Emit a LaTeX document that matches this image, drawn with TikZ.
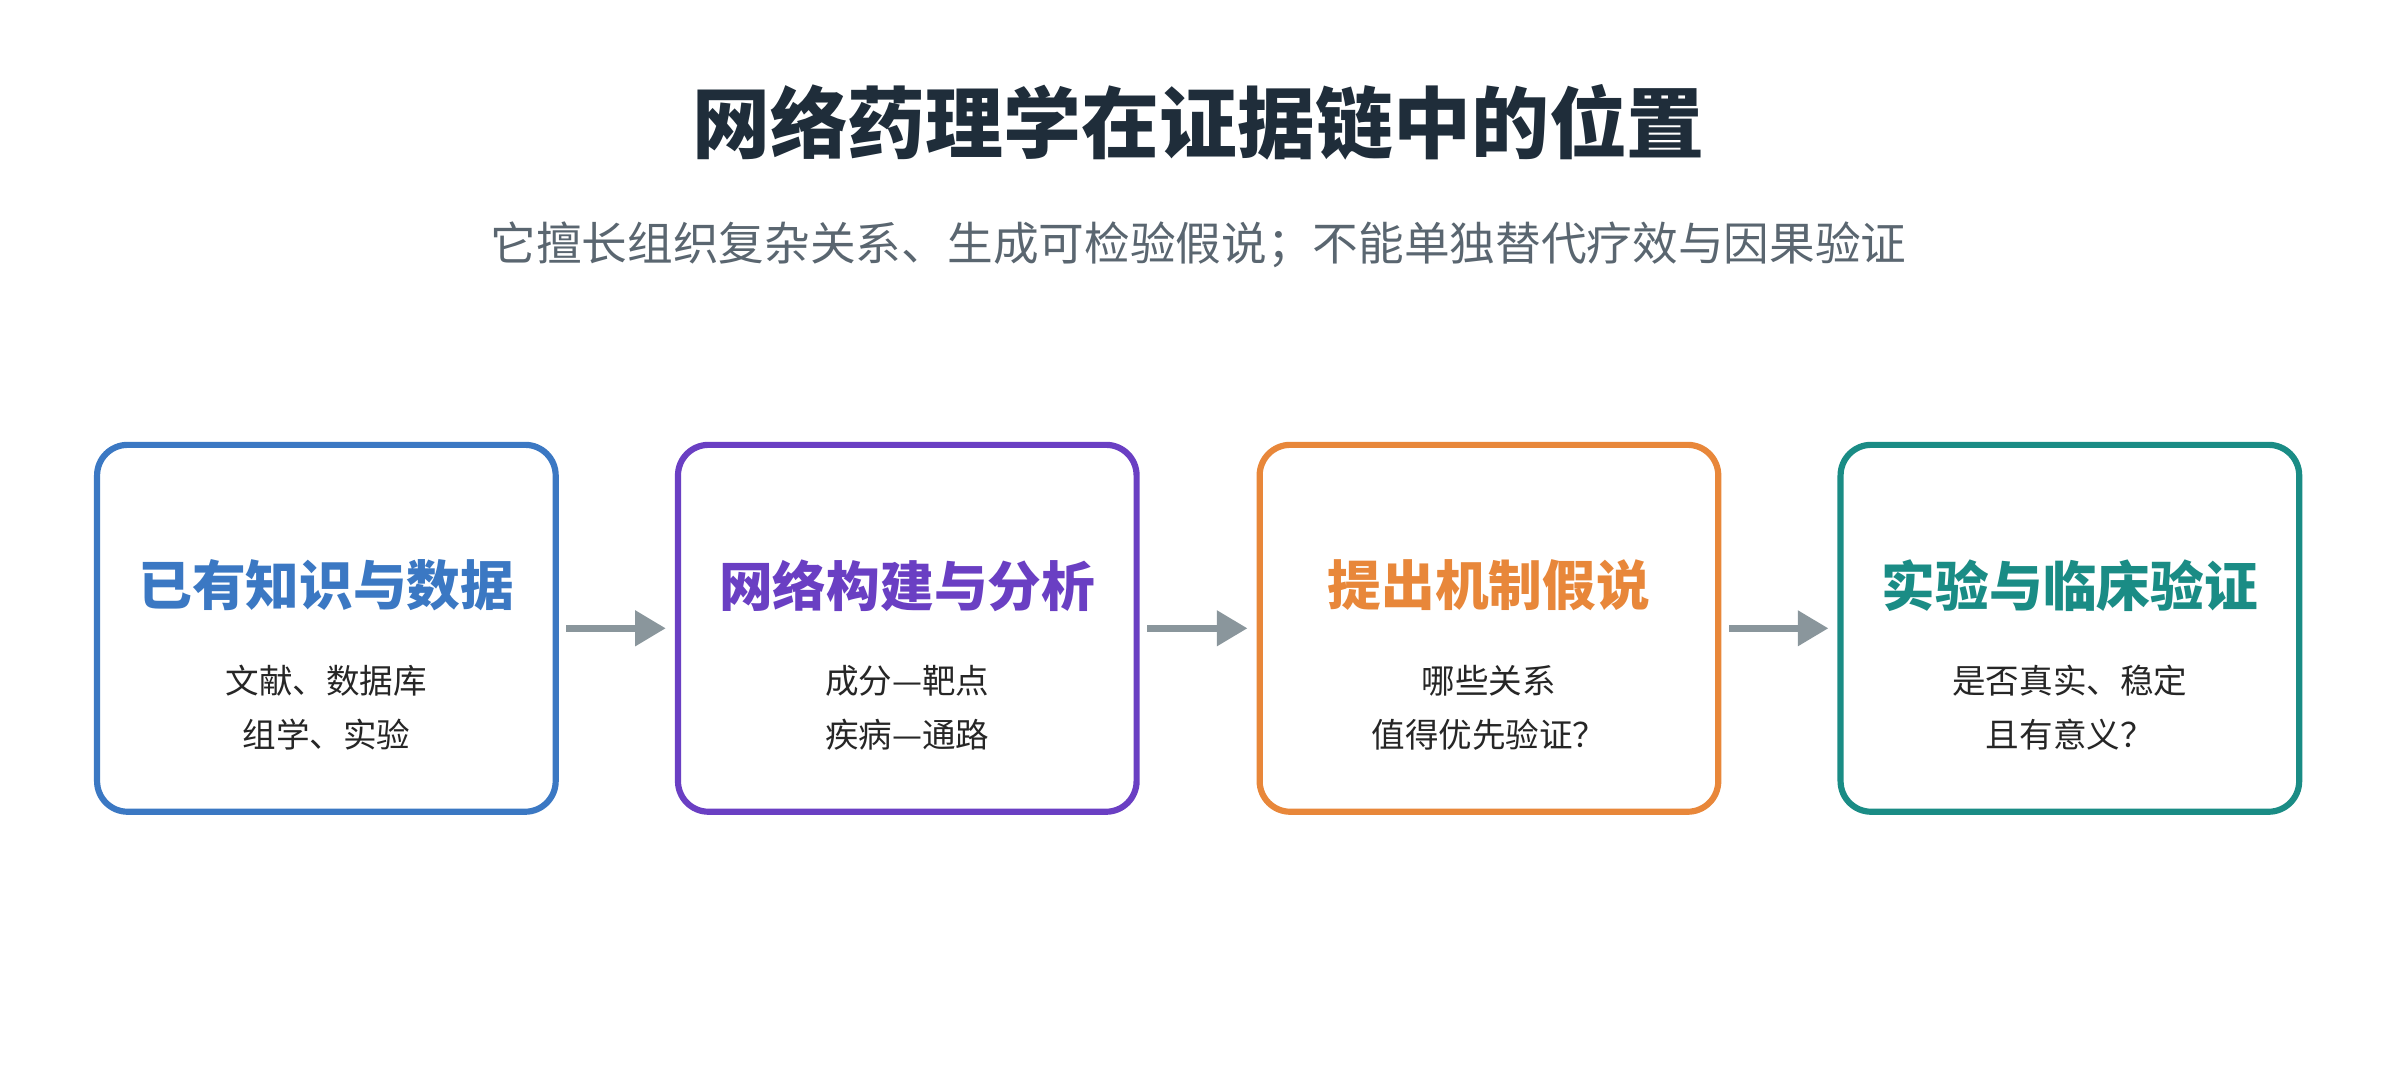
\documentclass[tikz,border=0pt]{standalone}
\usepackage{fontspec}
\setmainfont{Noto Sans CJK SC}
\usepackage{xcolor}
\usetikzlibrary{arrows.meta,positioning}
\definecolor{cTitle}{HTML}{1F2D3A}
\definecolor{cSub}{HTML}{5A6670}
\definecolor{cBlue}{HTML}{3B78C3}
\definecolor{cPurple}{HTML}{6A3FC3}
\definecolor{cOrange}{HTML}{E8873A}
\definecolor{cTeal}{HTML}{1A8C85}
\definecolor{cArrow}{HTML}{8A969C}
\tikzstyle{tsBox} = [
    rectangle,
    rounded corners=0.4cm,
    line width=2.3pt,
    minimum width=6cm,
    minimum height=4.8cm,
    fill=white]
\tikzstyle{tsHead} = [
    font=\bfseries\fontsize{20}{24}\selectfont]
\tikzstyle{tsBody} = [
    text=black!85,
    align=center,
    font=\fontsize{12.5}{20}\selectfont]
\tikzstyle{tsArrow} = [
    draw=cArrow,
    line width=2.4pt,
    -{Triangle[length=0.4cm,width=0.45cm]}]

\begin{document}
\begin{tikzpicture}
        \useasboundingbox (0,0) rectangle (31.36,14.08);

        \node[text=cTitle, font=\bfseries\fontsize{29}{34}\selectfont] (title) at (15.68,12.48) {网络药理学在证据链中的位置};
        \node[text=cSub, font=\fontsize{17}{20}\selectfont] (subtitle) at (15.68,10.88) {它擅长组织复杂关系、生成可检验假说；不能单独替代疗效与因果验证};

        \node[tsBox, draw=cBlue] (know) at (4.27,5.86) {};
        \node[tsBox, draw=cPurple] (net) at (11.87,5.86) {};
        \node[tsBox, draw=cOrange] (hypo) at (19.48,5.86) {};
        \node[tsBox, draw=cTeal] (valid) at (27.08,5.86) {};

        \node[tsHead, text=cBlue] at (4.27,6.42) {已有知识与数据};
        \node[tsHead, text=cPurple] at (11.87,6.42) {网络构建与分析};
        \node[tsHead, text=cOrange] at (19.48,6.42) {提出机制假说};
        \node[tsHead, text=cTeal] at (27.08,6.42) {实验与临床验证};

        \node[tsBody] at (4.27,4.82) {文献、数据库\\组学、实验};
        \node[tsBody] at (11.87,4.82) {成分—靶点\\疾病—通路};
        \node[tsBody] at (19.48,4.82) {哪些关系\\值得优先验证？};
        \node[tsBody] at (27.08,4.82) {是否真实、稳定\\且有意义？};

        \draw[tsArrow] ([xshift=0.1cm]know.east) -- ([xshift=-0.12cm]net.west);
        \draw[tsArrow] ([xshift=0.1cm]net.east) -- ([xshift=-0.12cm]hypo.west);
        \draw[tsArrow] ([xshift=0.1cm]hypo.east) -- ([xshift=-0.12cm]valid.west);
\end{tikzpicture}
\end{document}
